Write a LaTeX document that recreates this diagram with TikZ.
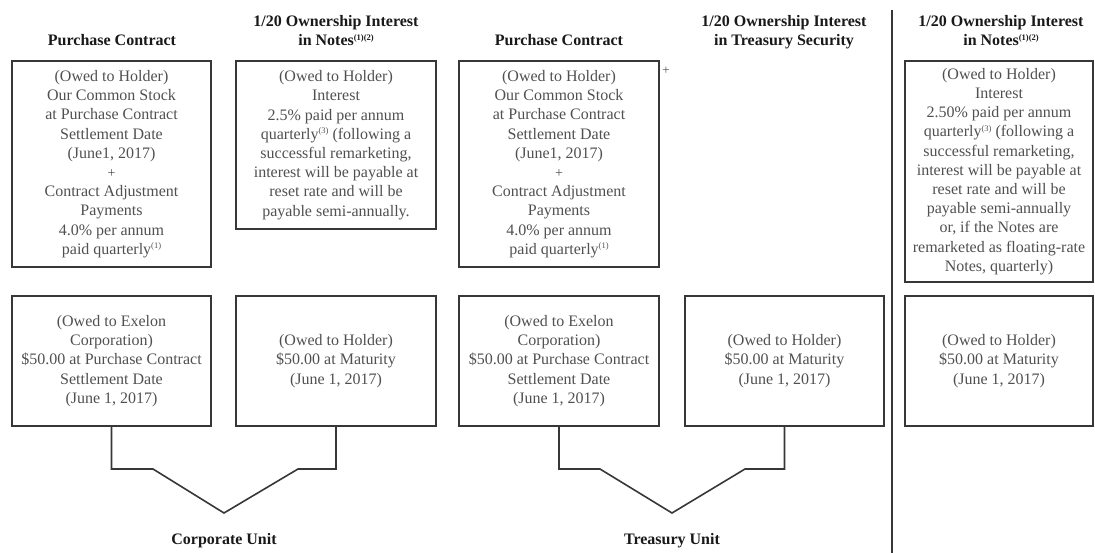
\documentclass[tikz,border=0pt]{standalone}
\usepackage{fontspec}
\setmainfont{Liberation Serif}
\definecolor{txtc}{RGB}{80,80,80}
\definecolor{ttlc}{RGB}{25,25,25}
\definecolor{boxc}{RGB}{55,55,55}
\newcommand\supn[1]{\raisebox{0.75ex}{\fontsize{8.5}{8.5}\selectfont(#1)}}
\newcommand\supnn{\raisebox{0.75ex}{\fontsize{8.5}{8.5}\selectfont(1)(2)}}
\newcommand\smplus{{\fontsize{14}{14}\selectfont +}}
\tikzset{
  box/.style={draw=boxc, line width=1.6pt, align=center, inner sep=0pt,
    text=txtc, font=\fontsize{16}{19.2}\selectfont},
  ttl/.style={align=center, inner sep=0pt, text=ttlc, anchor=base,
    font=\fontsize{16}{19.2}\selectfont\bfseries},
  conn/.style={draw=boxc, line width=1.6pt},
}
\begin{document}
\begin{tikzpicture}[x=1pt, y=-1pt]
\useasboundingbox (0,0) rectangle (1095,553);
% titles
\node[ttl] (t1) at (112,46) {Purchase Contract};
\node[ttl] (t2a) at (336,27) {1/20 Ownership Interest};
\node[ttl] (t2b) at (336,46) {in Notes\supnn};
\node[ttl] (t3) at (559,46) {Purchase Contract};
\node[ttl] (t4a) at (784,27) {1/20 Ownership Interest};
\node[ttl] (t4b) at (784,46) {in Treasury Security};
\node[ttl] (t5a) at (1001,27) {1/20 Ownership Interest};
\node[ttl] (t5b) at (1001,46) {in Notes\supnn};
% top boxes
\node[box, minimum width=199pt, minimum height=206pt] (pcA) at (111.5,164)
  {(Owed to Holder)\\Our Common Stock\\at Purchase Contract\\Settlement Date\\(June1, 2017)\\\smplus\\Contract Adjustment\\Payments\\4.0\% per annum\\paid quarterly\supn{1}};
\node[box, minimum width=200pt, minimum height=168pt] (noteA) at (336,145)
  {(Owed to Holder)\\Interest\\2.5\% paid per annum\\quarterly\supn{3} (following a\\successful remarketing,\\interest will be payable at\\reset rate and will be\\payable semi-annually.};
\node[box, minimum width=200pt, minimum height=206pt] (pcB) at (559,164)
  {(Owed to Holder)\\Our Common Stock\\at Purchase Contract\\Settlement Date\\(June1, 2017)\\\smplus\\Contract Adjustment\\Payments\\4.0\% per annum\\paid quarterly\supn{1}};
\node[text=txtc, inner sep=0pt, font=\fontsize{13}{13}\selectfont] (plus) at (666,71) {+};
\node[box, minimum width=188pt, minimum height=221pt] (noteR) at (999,171.5)
  {(Owed to Holder)\\Interest\\2.50\% paid per annum\\quarterly\supn{3} (following a\\successful remarketing,\\interest will be payable at\\reset rate and will be\\payable semi-annually\\or, if the Notes are\\remarketed as floating-rate\\Notes, quarterly)};
% bottom boxes
\node[box, minimum width=199pt, minimum height=130pt] (exA) at (111.5,361)
  {(Owed to Exelon\\Corporation)\\\$50.00 at Purchase Contract\\Settlement Date\\(June 1, 2017)};
\node[box, minimum width=200pt, minimum height=130pt] (matA) at (336,361)
  {(Owed to Holder)\\\$50.00 at Maturity\\(June 1, 2017)};
\node[box, minimum width=200pt, minimum height=130pt] (exB) at (559,361)
  {(Owed to Exelon\\Corporation)\\\$50.00 at Purchase Contract\\Settlement Date\\(June 1, 2017)};
\node[box, minimum width=199pt, minimum height=130pt] (matB) at (784.5,361)
  {(Owed to Holder)\\\$50.00 at Maturity\\(June 1, 2017)};
\node[box, minimum width=188pt, minimum height=130pt] (matR) at (999,361)
  {(Owed to Holder)\\\$50.00 at Maturity\\(June 1, 2017)};
% unit labels
\node[ttl] (cu) at (224,544) {Corporate Unit};
\node[ttl] (tu) at (672,544) {Treasury Unit};
% connectors
\coordinate (cuApex) at (224,513);
\coordinate (tuApex) at (672,513);
\draw[conn, line join=miter] (exA.south) |- (153,469) -- (cuApex) -- (298,469) -| (matA.south);
\draw[conn, line join=miter] (exB.south) |- (600,469) -- (tuApex) -- (745,469) -| (matB.south);
% divider
\coordinate (divtop) at (892,10);
\coordinate (divbot) at (892,553);
\draw[conn] (divtop) -- (divbot);
\end{tikzpicture}
\end{document}
